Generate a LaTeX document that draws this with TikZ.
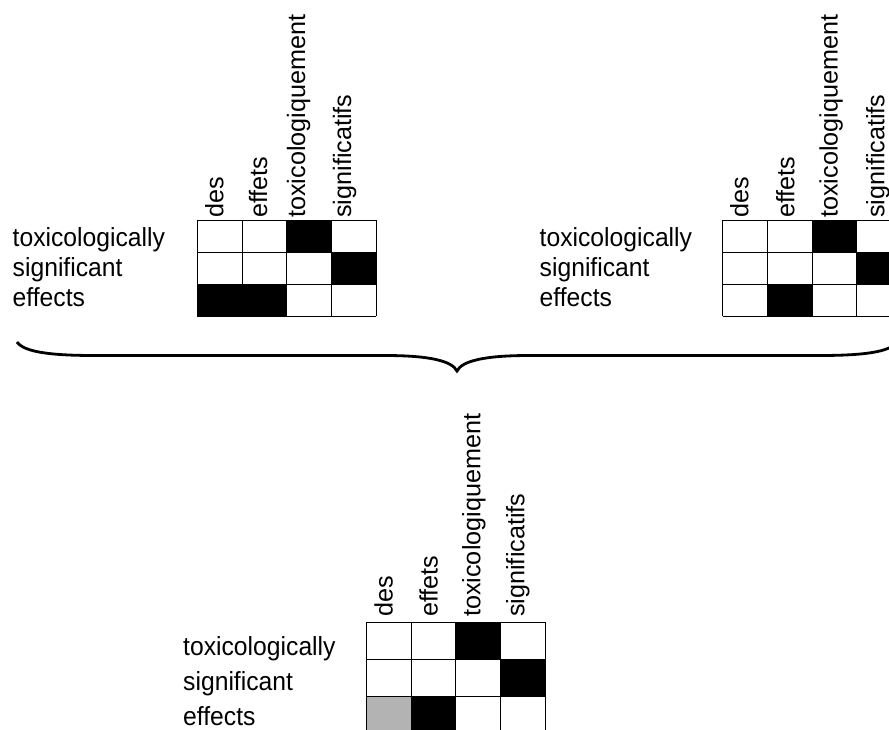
\documentclass[tikz,border=0pt]{standalone}
\usepackage{fontspec}
\usepackage{graphicx}
\setmainfont{Liberation Sans}
\definecolor{cellgray}{HTML}{B3B3B3}
\newcommand{\rowtext}[1]{\scalebox{1}[1.06]{#1}}
\begin{document}
\begin{tikzpicture}[x=1pt,y=-1pt,
  lbl/.style={anchor=base west, inner sep=0pt, font=\fontsize{24.7}{30}\selectfont},
  clbl/.style={anchor=base west, inner sep=0pt, rotate=90, font=\fontsize{25.2}{30}\selectfont},
  gridline/.style={draw=black, line width=1pt},
  blk/.style={fill=black},
  gry/.style={fill=cellgray},
  brace/.style={draw=black, line width=2.8pt}]
\clip (0,0) rectangle (889,729);
\fill[white] (0,0) rectangle (889,729);

% ---------- top-left matrix ----------
\node[lbl] (tlr1) at (12.5,246) {\rowtext{toxicologically}};
\node[lbl] (tlr2) at (12.5,276) {\rowtext{significant}};
\node[lbl] (tlr3) at (12.5,306) {\rowtext{effects}};
\node[clbl] (tlc1) at (223.3,218) {des};
\node[clbl] (tlc2) at (267,218) {effets};
\node[clbl] (tlc3) at (305,218) {toxicologiquement};
\node[clbl] (tlc4) at (351,218) {significatifs};
\fill[blk] (286.7,220) rectangle (331.4,252);
\fill[blk] (331.4,252) rectangle (376,284);
\fill[blk] (197.3,284) rectangle (286.7,316);
\foreach \x in {197.3,242,286.7,331.4,376} \draw[gridline] (\x,220) -- (\x,316);
\foreach \y in {220,252,284,316} \draw[gridline] (197.3,\y) -- (376,\y);

% ---------- top-right matrix ----------
\node[lbl] (trr1) at (539.5,246) {\rowtext{toxicologically}};
\node[lbl] (trr2) at (539.5,276) {\rowtext{significant}};
\node[lbl] (trr3) at (539.5,306) {\rowtext{effects}};
\node[clbl] (trc1) at (748.4,218) {des};
\node[clbl] (trc2) at (794.4,218) {effets};
\node[clbl] (trc3) at (837.7,218) {toxicologiquement};
\node[clbl] (trc4) at (884.4,218) {significatifs};
\fill[blk] (812.1,220) rectangle (856.8,252);
\fill[blk] (856.8,252) rectangle (901.5,284);
\fill[blk] (767.4,284) rectangle (812.1,316);
\foreach \x in {722.7,767.4,812.1,856.8,901.5} \draw[gridline] (\x,220) -- (\x,316);
\foreach \y in {220,252,284,316} \draw[gridline] (722.7,\y) -- (901.5,\y);

% ---------- brace ----------
\draw[brace] (17,342) .. controls (24,352) and (50,355.5) .. (95,355.5)
  -- (385,355.5) .. controls (430,355.5) and (452,361) .. (457,371)
  .. controls (462,361) and (484,355.5) .. (529,355.5)
  -- (819,355.5) .. controls (864,355.5) and (890,352) .. (897,342);

% ---------- bottom matrix ----------
\node[lbl] (bmr1) at (183,655) {\rowtext{toxicologically}};
\node[lbl] (bmr2) at (183,690) {\rowtext{significant}};
\node[lbl] (bmr3) at (183,725) {\rowtext{effects}};
\node[clbl] (bmc1) at (392.7,617) {des};
\node[clbl] (bmc2) at (437.7,617) {effets};
\node[clbl] (bmc3) at (480.4,617) {toxicologiquement};
\node[clbl] (bmc4) at (524.4,617) {significatifs};
\fill[blk] (455.9,622) rectangle (500.5,659.3);
\fill[blk] (500.5,659.3) rectangle (545.1,696.6);
\fill[gry] (366.7,696.6) rectangle (411.3,733.9);
\fill[blk] (411.3,696.6) rectangle (455.9,733.9);
\foreach \x in {366.7,411.3,455.9,500.5,545.1} \draw[gridline] (\x,622) -- (\x,733.9);
\foreach \y in {622,659.3,696.6,733.9} \draw[gridline] (366.7,\y) -- (545.1,\y);
\end{tikzpicture}
\end{document}
